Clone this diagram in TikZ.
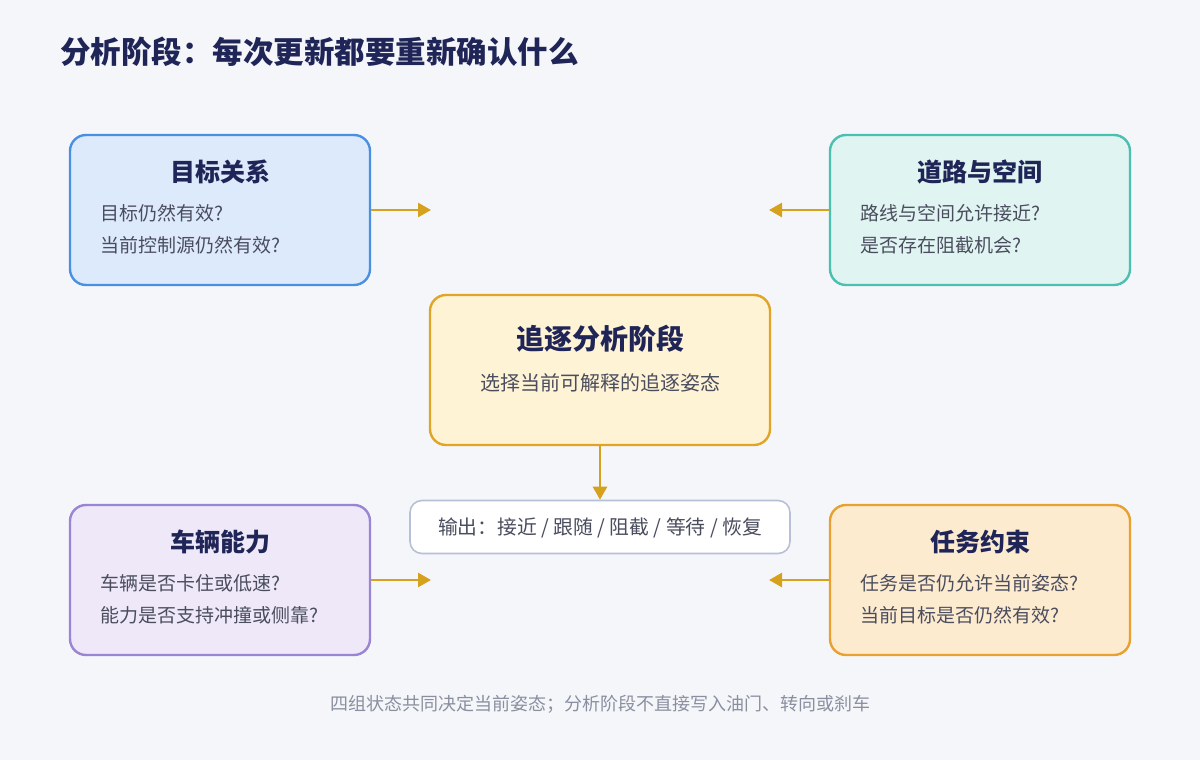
\documentclass[tikz,border=0pt]{standalone}
\usepackage{fontspec}
\setmainfont{Noto Sans CJK SC}
\usetikzlibrary{arrows.meta}
\definecolor{bg}{HTML}{F5F6FA}
\definecolor{navy}{HTML}{1F2557}
\definecolor{bodytxt}{HTML}{4A4D5E}
\definecolor{foot}{HTML}{8A8FA0}
\definecolor{arr}{HTML}{D6A21E}
\definecolor{bluefill}{HTML}{DDEAFB}
\definecolor{blueline}{HTML}{4A90E2}
\definecolor{tealfill}{HTML}{E0F4F1}
\definecolor{tealline}{HTML}{4BBFB0}
\definecolor{yelfill}{HTML}{FFF3D6}
\definecolor{yelline}{HTML}{E0A526}
\definecolor{purfill}{HTML}{EEE8F8}
\definecolor{purline}{HTML}{9A84D4}
\definecolor{orfill}{HTML}{FDEBD0}
\definecolor{orline}{HTML}{E8A030}
\definecolor{outline}{HTML}{B8C0D6}
\tikzset{
  card/.style={rounded corners=16pt, line width=2.4pt, minimum width=300pt, minimum height=150pt, inner sep=0pt},
  cardtitle/.style={font=\fontsize{25}{30}\selectfont\bfseries, text=navy},
  cardbody/.style={font=\fontsize{19}{24}\selectfont, text=bodytxt, anchor=west, inner sep=0pt},
  conn/.style={draw=arr, line width=2.6pt, -{Triangle[length=13pt,width=14pt]}},
}
\begin{document}
\begin{tikzpicture}[x=1pt,y=-1pt]
\fill[bg] (0,0) rectangle (1200,760);
\useasboundingbox (0,0) rectangle (1200,760);

\node[anchor=west, inner sep=0pt, font=\fontsize{30.5}{36}\selectfont\bfseries, text=navy] (title) at (60,52) {分析阶段：每次更新都要重新确认什么};

% cards
\node[card, draw=blueline, fill=bluefill] (goal) at (220,210) {};
\node[cardtitle] (goalt) at (220,172) {目标关系};
\node[cardbody] (goalb1) at (100,213) {目标仍然有效?};
\node[cardbody] (goalb2) at (100,245) {当前控制源仍然有效?};

\node[card, draw=tealline, fill=tealfill] (road) at (980,210) {};
\node[cardtitle] (roadt) at (980,172) {道路与空间};
\node[cardbody] (roadb1) at (860,213) {路线与空间允许接近?};
\node[cardbody] (roadb2) at (860,245) {是否存在阻截机会?};

\node[card, draw=purline, fill=purfill] (veh) at (220,580) {};
\node[cardtitle] (veht) at (220,542) {车辆能力};
\node[cardbody] (vehb1) at (100,583) {车辆是否卡住或低速?};
\node[cardbody] (vehb2) at (100,615) {能力是否支持冲撞或侧靠?};

\node[card, draw=orline, fill=orfill] (task) at (980,580) {};
\node[cardtitle] (taskt) at (980,542) {任务约束};
\node[cardbody] (taskb1) at (860,583) {任务是否仍允许当前姿态?};
\node[cardbody] (taskb2) at (860,615) {当前目标是否仍然有效?};

\node[card, draw=yelline, fill=yelfill, minimum width=340pt] (core) at (600,370) {};
\node[font=\fontsize{28}{34}\selectfont\bfseries, text=navy] (coret) at (600,339) {追逐分析阶段};
\node[font=\fontsize{20}{24}\selectfont, text=bodytxt] (coreb) at (600,383) {选择当前可解释的追逐姿态};

\node[rounded corners=12pt, draw=outline, line width=1.6pt, fill=white, minimum width=380pt, minimum height=53pt, inner sep=0pt] (out) at (600,527) {};
\node[font=\fontsize{19.8}{24}\selectfont, text=bodytxt] (outt) at (600,528) {输出：接近 / 跟随 / 阻截 / 等待 / 恢复};

% connectors
\coordinate (gE) at (431,210);
\coordinate (rW) at (769,210);
\coordinate (vE) at (431,580);
\coordinate (tW) at (769,580);
\draw[conn] (goal.east) -- (gE);
\draw[conn] (road.west) -- (rW);
\draw[conn] (veh.east) -- (vE);
\draw[conn] (task.west) -- (tW);
\draw[conn] (core.south) -- (out.north);

\node[font=\fontsize{18}{22}\selectfont, text=foot] (foot) at (600,704) {四组状态共同决定当前姿态；分析阶段不直接写入油门、转向或刹车};
\end{tikzpicture}
\end{document}
